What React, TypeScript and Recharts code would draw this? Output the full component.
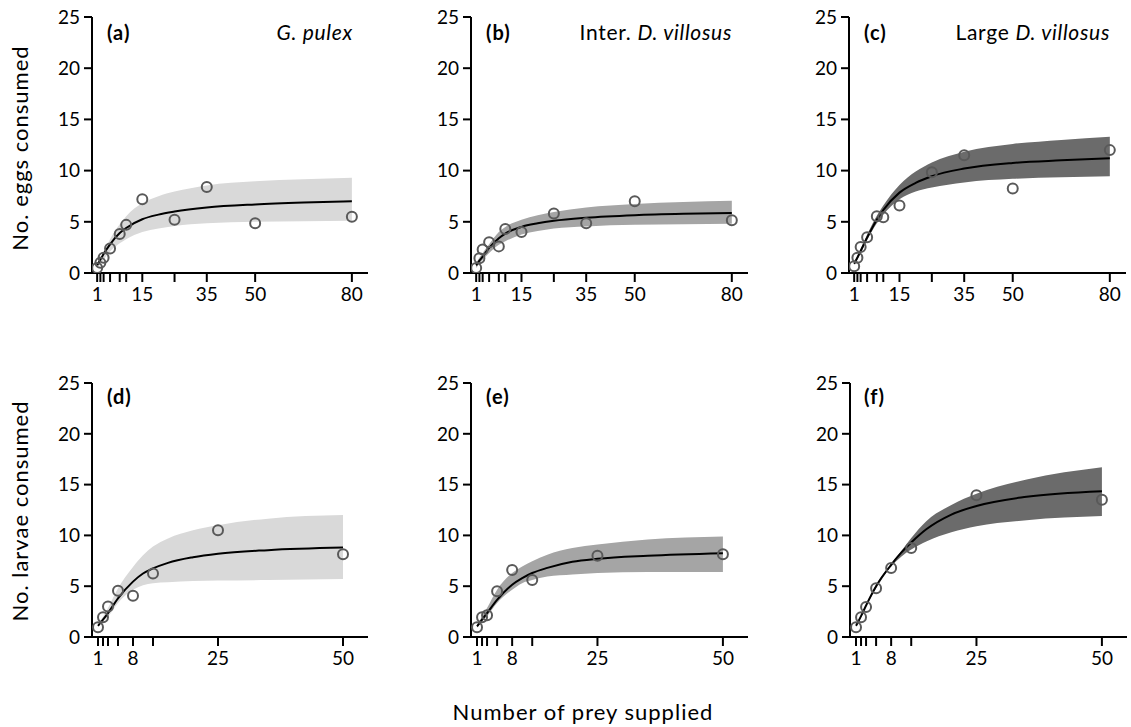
import { ComposedChart, Area, Line, Scatter, XAxis, YAxis } from 'recharts';

const FONT = 'Lato, "Open Sans", sans-serif';

// axes
const Y_TICKS = [0, 5, 10, 15, 20, 25];
const EGG_TICKS = [1, 2, 3, 5, 8, 10, 15, 25, 35, 50, 80];
const EGG_LABELS = [1, 15, 35, 50, 80];
const LARVA_TICKS = [1, 2, 3, 5, 8, 12, 25, 50];
const LARVA_LABELS = [1, 8, 25, 50];

// observed means
const eggDensity = [1, 2, 3, 5, 8, 10, 15, 25, 35, 50, 80];
const eggsA = [0.5, 1.0, 1.5, 2.4, 3.8, 4.7, 7.2, 5.2, 8.4, 4.85, 5.5];
const eggsB = [0.5, 1.45, 2.3, 3.0, 2.6, 4.3, 4.0, 5.8, 4.85, 7.0, 5.15];
const eggsC = [0.65, 1.5, 2.55, 3.5, 5.55, 5.45, 6.6, 9.85, 11.5, 8.25, 12.0];

const larvaDensity = [1, 2, 3, 5, 8, 12, 25, 50];
const larvaeD = [0.95, 1.95, 3.0, 4.55, 4.05, 6.25, 10.5, 8.15];
const larvaeE = [0.95, 1.95, 2.15, 4.5, 6.6, 5.6, 8.0, 8.15];
const larvaeF = [0.95, 1.95, 2.95, 4.8, 6.8, 8.75, 13.95, 13.5];

// fitted curves and confidence bands
const eggFitX = [1, 2, 3, 5, 8, 10, 15, 20, 25, 35, 50, 65, 80];
const fitA = [0.75, 1.3, 1.85, 2.8, 3.9, 4.4, 5.25, 5.7, 6.0, 6.4, 6.7, 6.88, 7.0];
const lowA = [0.55, 0.9, 1.3, 2.1, 2.9, 3.3, 4.0, 4.35, 4.6, 4.85, 5.0, 5.05, 5.1];
const highA = [0.8, 1.45, 2.0, 3.3, 4.75, 5.55, 6.8, 7.5, 7.95, 8.55, 8.95, 9.15, 9.3];
const fitB = [0.75, 1.2, 1.6, 2.45, 3.4, 3.85, 4.5, 4.85, 5.1, 5.4, 5.65, 5.78, 5.85];
const lowB = [0.5, 0.9, 1.3, 1.95, 2.75, 3.1, 3.75, 4.1, 4.35, 4.55, 4.7, 4.75, 4.8];
const highB = [1.0, 1.5, 1.95, 2.8, 4.0, 4.5, 5.2, 5.65, 5.95, 6.4, 6.75, 6.93, 7.05];
const fitC = [0.9, 1.5, 2.15, 3.45, 5.2, 6.15, 7.85, 8.8, 9.45, 10.2, 10.75, 11.0, 11.2];
const lowC = [0.8, 1.3, 1.95, 3.2, 4.85, 5.7, 7.2, 7.95, 8.35, 8.85, 9.2, 9.35, 9.45];
const highC = [1.15, 1.7, 2.35, 3.75, 5.6, 6.6, 8.6, 9.9, 10.8, 11.85, 12.6, 13.0, 13.3];

const larvaFitX = [1, 2, 3, 5, 8, 10, 12, 15, 20, 25, 35, 50];
const fitD = [1.1, 1.7, 2.35, 3.8, 5.45, 6.25, 6.75, 7.3, 7.85, 8.2, 8.55, 8.8];
const lowD = [1.0, 1.5, 2.0, 3.35, 4.65, 5.1, 5.3, 5.4, 5.5, 5.55, 5.6, 5.7];
const highD = [1.2, 2.0, 2.85, 4.8, 6.9, 8.05, 8.9, 9.7, 10.5, 11.0, 11.65, 12.0];
const fitE = [1.05, 1.7, 2.35, 3.65, 5.15, 5.8, 6.3, 6.8, 7.4, 7.7, 8.0, 8.25];
const lowE = [0.9, 1.5, 2.05, 3.35, 4.65, 5.3, 5.6, 5.95, 6.15, 6.3, 6.4, 6.4];
const highE = [1.2, 2.0, 2.85, 4.65, 6.3, 6.95, 7.45, 8.1, 8.75, 9.1, 9.6, 9.9];
const fitF = [1.1, 2.05, 3.1, 5.0, 7.1, 8.3, 9.3, 10.6, 12.05, 12.9, 13.8, 14.35];
const lowF = [1.0, 1.95, 3.0, 4.8, 6.95, 7.9, 8.6, 9.4, 10.3, 10.9, 11.5, 11.9];
const highF = [1.2, 2.15, 3.2, 5.15, 7.2, 8.45, 9.75, 11.4, 13.0, 14.1, 15.5, 16.7];

const LIGHT = '#d9d9d9';
const MID = '#a5a5a5';
const DARK = '#6b6b6b';

const OpenCircle = (props: any) => {
  const { cx, cy } = props;
  if (cx == null || cy == null) return null;
  return <circle cx={cx} cy={cy} r={5} fill="none" stroke="#595959" strokeWidth={2} />;
};

function Panel({ left, top, width, height, xDomain, xTicks, xLabels, fitX, fit, low, high, obsX, obsY, fill }: any) {
  const curve = fitX.map((x: number, i: number) => ({ x, fit: fit[i], band: [low[i], high[i]] }));
  const points = obsX.map((x: number, i: number) => ({ x, y: obsY[i] }));
  const yw = 60;
  const mt = 20;
  return (
    <div style={{ position: 'absolute', left: left - yw, top: top - mt }}>
      <ComposedChart
        width={width + yw + 6}
        height={height + mt + 45}
        data={curve}
        margin={{ top: mt, right: 6, bottom: 0, left: 0 }}
      >
        <XAxis
          type="number"
          dataKey="x"
          domain={xDomain}
          allowDataOverflow
          ticks={xTicks}
          interval={0}
          height={45}
          tickSize={9}
          tickMargin={6}
          stroke="#000"
          strokeWidth={2}
          tickFormatter={(v: number) => (xLabels.includes(v) ? String(v) : '')}
          tick={{ fill: '#000', fontSize: 19, fontFamily: FONT }}
        />
        <YAxis
          type="number"
          dataKey="y"
          domain={[0, 25]}
          allowDataOverflow
          ticks={Y_TICKS}
          interval={0}
          width={yw}
          tickSize={8}
          tickMargin={4}
          stroke="#000"
          strokeWidth={2}
          tick={{ fill: '#000', fontSize: 19, fontFamily: FONT }}
        />
        <Area
          dataKey="band"
          type="monotone"
          stroke="none"
          fill={fill}
          fillOpacity={1}
          isAnimationActive={false}
        />
        <Line
          dataKey="fit"
          type="monotone"
          stroke="#000"
          strokeWidth={2}
          dot={false}
          isAnimationActive={false}
        />
        <Scatter data={points} dataKey="y" shape={OpenCircle} isAnimationActive={false} />
      </ComposedChart>
    </div>
  );
}

const tagStyle = (left: number, top: number): React.CSSProperties => ({
  position: 'absolute',
  left,
  top,
  fontFamily: FONT,
  fontWeight: 700,
  fontSize: 20,
  letterSpacing: 1,
  lineHeight: '20px',
  color: '#000',
});

const titleStyle = (right: number, top: number): React.CSSProperties => ({
  position: 'absolute',
  left: right - 300,
  width: 300,
  top,
  textAlign: 'right',
  fontFamily: FONT,
  fontSize: 21,
  letterSpacing: 0.7,
  lineHeight: '21px',
  color: '#000',
});

const yLabelStyle = (cx: number, cy: number): React.CSSProperties => ({
  position: 'absolute',
  left: cx - 150,
  top: cy - 13,
  width: 300,
  height: 26,
  lineHeight: '26px',
  textAlign: 'center',
  transform: 'rotate(-90deg)',
  fontFamily: FONT,
  fontSize: 22,
  letterSpacing: 1,
  color: '#000',
  whiteSpace: 'nowrap',
});

export default function App() {
  const topDomain = [-0.6, 85];
  const botDomain = [-0.2, 55];
  return (
    <div style={{ position: 'absolute', left: 0, top: 0, width: 1131, height: 727, background: '#fff', overflow: 'hidden' }}>
      <Panel left={92} top={17} width={276} height={256} xDomain={topDomain} xTicks={EGG_TICKS} xLabels={EGG_LABELS}
        fitX={eggFitX} fit={fitA} low={lowA} high={highA} obsX={eggDensity} obsY={eggsA} fill={LIGHT} />
      <Panel left={471} top={17} width={277} height={256} xDomain={topDomain} xTicks={EGG_TICKS} xLabels={EGG_LABELS}
        fitX={eggFitX} fit={fitB} low={lowB} high={highB} obsX={eggDensity} obsY={eggsB} fill={MID} />
      <Panel left={849} top={17} width={277} height={256} xDomain={topDomain} xTicks={EGG_TICKS} xLabels={EGG_LABELS}
        fitX={eggFitX} fit={fitC} low={lowC} high={highC} obsX={eggDensity} obsY={eggsC} fill={DARK} />
      <Panel left={92} top={383} width={276} height={254} xDomain={botDomain} xTicks={LARVA_TICKS} xLabels={LARVA_LABELS}
        fitX={larvaFitX} fit={fitD} low={lowD} high={highD} obsX={larvaDensity} obsY={larvaeD} fill={LIGHT} />
      <Panel left={471} top={383} width={277} height={254} xDomain={botDomain} xTicks={LARVA_TICKS} xLabels={LARVA_LABELS}
        fitX={larvaFitX} fit={fitE} low={lowE} high={highE} obsX={larvaDensity} obsY={larvaeE} fill={MID} />
      <Panel left={850} top={383} width={277} height={254} xDomain={botDomain} xTicks={LARVA_TICKS} xLabels={LARVA_LABELS}
        fitX={larvaFitX} fit={fitF} low={lowF} high={highF} obsX={larvaDensity} obsY={larvaeF} fill={DARK} />

      <div style={tagStyle(107, 22)}>(a)</div>
      <div style={tagStyle(486, 22)}>(b)</div>
      <div style={tagStyle(864, 22)}>(c)</div>
      <div style={tagStyle(107, 386)}>(d)</div>
      <div style={tagStyle(486, 386)}>(e)</div>
      <div style={tagStyle(864, 386)}>(f)</div>

      <div style={titleStyle(353, 21)}><i>G. pulex</i></div>
      <div style={titleStyle(732, 21)}>Inter. <i>D. villosus</i></div>
      <div style={titleStyle(1110, 21)}>Large <i>D. villosus</i></div>

      <div style={yLabelStyle(20, 148)}>No. eggs consumed</div>
      <div style={yLabelStyle(20, 511)}>No. larvae consumed</div>

      <div style={{ position: 'absolute', left: 383, width: 400, top: 699, textAlign: 'center', fontFamily: FONT, fontSize: 22, letterSpacing: 1, lineHeight: '26px', color: '#000' }}>
        Number of prey supplied
      </div>
    </div>
  );
}
